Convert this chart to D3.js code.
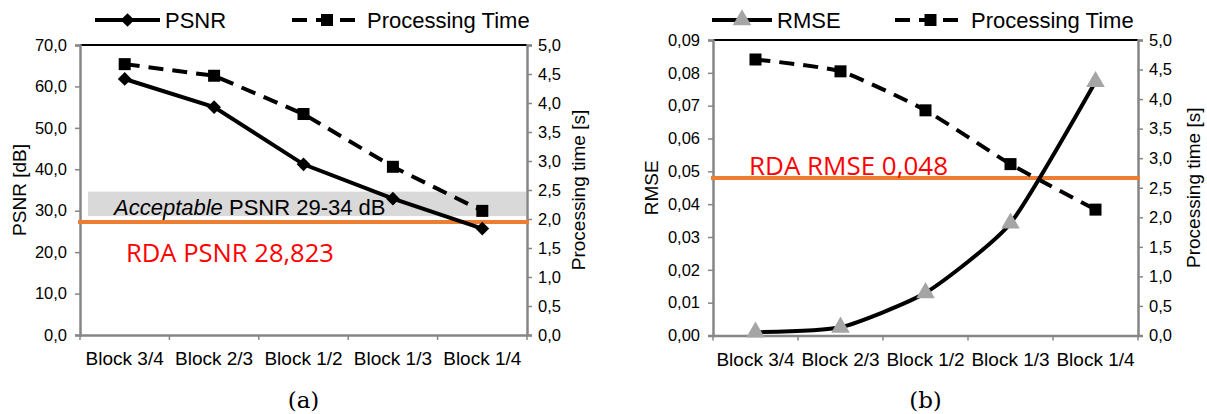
<!DOCTYPE html>
<html><head><meta charset="utf-8">
<script src="https://cdn.jsdelivr.net/npm/d3@7"></script>
<style>
html,body{margin:0;padding:0;background:#fff;}
svg text{font-family:"Liberation Sans",Arial,sans-serif;fill:#000;}
</style></head>
<body><svg id="c" width="1207" height="414"></svg>
<script>
const categories = ["Block 3/4","Block 2/3","Block 1/2","Block 1/3","Block 1/4"];
const psnr = [61.8, 55.0, 41.2, 32.9, 25.7];
const procTimeA = [4.67, 4.47, 3.81, 2.90, 2.14];
const rmse = [0.0010, 0.0025, 0.0130, 0.0342, 0.0773];
const procTimeB = [4.67, 4.47, 3.81, 2.90, 2.13];
const psnrTicks = [0,10,20,30,40,50,60,70];
const timeTicks = [0,0.5,1,1.5,2,2.5,3,3.5,4,4.5,5];
const rmseTicks = [0,0.01,0.02,0.03,0.04,0.05,0.06,0.07,0.08,0.09];
const acceptableBand = [28.7, 34.6];
const rdaPsnrLine = [27.3];
const rdaRmseLine = [0.048];
const labelsA = ["PSNR","Processing Time","PSNR [dB]","Processing time [s]","Acceptable"," PSNR 29-34 dB","RDA PSNR 28,823","(a)"];
const labelsB = ["RMSE","Processing Time","RMSE","Processing time [s]","RDA RMSE 0,048","(b)"];

const svg = d3.select("#c");
const comma = f => v => d3.format(f)(v).replace(".", ",");
const axisGray = "#868686";

function panel(o){
  const g = svg.append("g");
  const x = d3.scaleBand().domain(categories).range([o.x0,o.x1]);
  const yL = d3.scaleLinear().domain(o.leftDomain).range([o.y1,o.y0]);
  const yR = d3.scaleLinear().domain([0,5]).range([o.y1,o.y0]);

  if (o.band){
    g.append("rect").attr("x",o.x0+8).attr("width",(o.x1-1)-(o.x0+8))
      .attr("y",yL(o.band[1])).attr("height",yL(o.band[0])-yL(o.band[1]))
      .attr("fill","#d9d9d9");
  }
  g.append("line").attr("x1",o.x0).attr("x2",o.x1).attr("y1",o.y0).attr("y2",o.y0)
    .attr("stroke","#000").attr("stroke-width",2);

  const la = d3.axisLeft(yL).tickValues(o.leftTicks).tickFormat(comma(o.leftFmt)).tickSizeOuter(0).tickSize(5).tickPadding(8);
  const ra = d3.axisRight(yR).tickValues(timeTicks).tickFormat(comma(".1f")).tickSizeOuter(0).tickSize(5).tickPadding(6);
  const ba = d3.axisBottom(x).tickSize(0).tickPadding(17);
  const gl = g.append("g").attr("transform",`translate(${o.x0},0)`).call(la);
  const gr = g.append("g").attr("transform",`translate(${o.x1},0)`).call(ra);
  const gb = g.append("g").attr("transform",`translate(0,${o.y1})`).call(ba);
  [gl,gr,gb].forEach(a=>{
    a.select(".domain").attr("stroke",axisGray).attr("stroke-width",2.5);
    a.selectAll(".tick line").attr("stroke",axisGray).attr("stroke-width",1.5);
    a.selectAll("text").style("font-family","'Liberation Sans',Arial,sans-serif").attr("fill","#000");
  });
  gl.selectAll("text").style("font-size","16.5px");
  gr.selectAll("text").style("font-size","16.5px");
  gb.selectAll("text").style("font-size","19px");
  const bounds = categories.map(c=>x(c)).concat([o.x1]);
  gb.selectAll(".btick").data(bounds).join("line").attr("class","btick")
    .attr("x1",d=>d).attr("x2",d=>d).attr("y1",0).attr("y2",5)
    .attr("stroke",axisGray).attr("stroke-width",1.5);

  g.append("line").attr("x1",o.x0-2).attr("x2",o.x1+2)
    .attr("y1",yL(o.rda)).attr("y2",yL(o.rda))
    .attr("stroke","#ed7d31").attr("stroke-width",4);

  const cx = d => x(d)+x.bandwidth()/2;
  const curve = o.smooth ? d3.curveCardinal.tension(0.45) : d3.curveLinear;
  const lineT = d3.line().x((d,i)=>cx(categories[i])).y(d=>yR(d)).curve(curve);
  g.append("path").attr("d",lineT(o.time)).attr("fill","none").attr("stroke","#000")
    .attr("stroke-width",4).attr("stroke-dasharray","15,9");
  const lineM = d3.line().x((d,i)=>cx(categories[i])).y(d=>yL(d)).curve(curve);
  g.append("path").attr("d",lineM(o.main)).attr("fill","none").attr("stroke","#000")
    .attr("stroke-width",4);
  g.selectAll(".sq").data(o.time).join("rect").attr("class","sq")
    .attr("x",(d,i)=>cx(categories[i])-6).attr("y",d=>yR(d)-6)
    .attr("width",12).attr("height",12).attr("fill","#000");
  if (o.marker==="diamond"){
    g.selectAll(".mk").data(o.main).join("path").attr("class","mk")
      .attr("d",d3.symbol(d3.symbolDiamond2,120)())
      .attr("transform",(d,i)=>`translate(${cx(categories[i])},${yL(d)})`).attr("fill","#000");
  } else {
    g.selectAll(".mk").data(o.main).join("path").attr("class","mk")
      .attr("d",d3.symbol(d3.symbolTriangle,150)())
      .attr("transform",(d,i)=>`translate(${cx(categories[i])},${yL(d)})`).attr("fill","#a5a5a5");
  }

  const my = (o.y0+o.y1)/2;
  g.append("text").attr("transform",`translate(${o.ltx},${my}) rotate(-90)`)
    .attr("text-anchor","middle").attr("dominant-baseline","central").style("font-size","19px").text(o.lt);
  g.append("text").attr("transform",`translate(${o.rtx},${my}) rotate(-90)`)
    .attr("text-anchor","middle").attr("dominant-baseline","central").style("font-size","19px").text(o.rt);

  const ly = 20;
  g.append("line").attr("x1",o.lg[0]).attr("x2",o.lg[1]).attr("y1",ly).attr("y2",ly)
    .attr("stroke","#000").attr("stroke-width",4);
  if (o.marker==="diamond"){
    g.append("path").attr("d",d3.symbol(d3.symbolDiamond2,120)())
      .attr("transform",`translate(${(o.lg[0]+o.lg[1])/2},${ly})`).attr("fill","#000");
  } else {
    g.append("path").attr("d",d3.symbol(d3.symbolTriangle,150)())
      .attr("transform",`translate(${(o.lg[0]+o.lg[1])/2},${ly})`).attr("fill","#a5a5a5");
  }
  g.append("text").attr("x",o.lg[1]+5).attr("y",ly+8).style("font-size","22px").text(o.mainName);
  g.append("line").attr("x1",o.lg[2]).attr("x2",o.lg[3]).attr("y1",ly).attr("y2",ly)
    .attr("stroke","#000").attr("stroke-width",4).attr("stroke-dasharray","15,9");
  g.append("rect").attr("x",(o.lg[2]+o.lg[3])/2-6).attr("y",ly-6).attr("width",12).attr("height",12).attr("fill","#000");
  g.append("text").attr("x",o.lg[3]+5).attr("y",ly+8).style("font-size","22px").text(o.timeName);

  g.append("text").attr("x",(o.x0+o.x1)/2).attr("y",408).attr("text-anchor","middle")
    .style("font-family","'DejaVu Serif',serif").style("font-size","23px").text(o.caption);
  return {x,yL,yR,g};
}

const A = panel({x0:80,x1:527,y0:45,y1:335,leftDomain:[0,70],leftTicks:psnrTicks,leftFmt:".1f",
  band:acceptableBand,rda:rdaPsnrLine[0],time:procTimeA,main:psnr,marker:"diamond",smooth:false,
  ltx:19,rtx:578,lt:labelsA[2],rt:labelsA[3],lg:[95,160,292,362],mainName:labelsA[0],timeName:labelsA[1],caption:labelsA[7]});

const B = panel({x0:713,x1:1138,y0:40,y1:335.5,leftDomain:[0,0.09],leftTicks:rmseTicks,leftFmt:".2f",
  band:null,rda:rdaRmseLine[0],time:procTimeB,main:rmse,marker:"triangle",smooth:true,
  ltx:651,rtx:1193,lt:labelsB[2],rt:labelsB[3],lg:[712,772,895,966],mainName:labelsB[0],timeName:labelsB[1],caption:labelsB[5]});

const t = A.g.append("text").attr("x",114).attr("y",215).style("font-size","22px");
t.append("tspan").style("font-style","italic").text(labelsA[4]);
t.append("tspan").text(labelsA[5]);

A.g.append("text").attr("x",126).attr("y",262).attr("textLength",208).attr("lengthAdjust","spacingAndGlyphs")
  .style("font-family","'Open Sans',sans-serif").style("font-size","25px").style("fill","#ff0000").text(labelsA[6]);
B.g.append("text").attr("x",749).attr("y",175).attr("textLength",199).attr("lengthAdjust","spacingAndGlyphs")
  .style("font-family","'Open Sans',sans-serif").style("font-size","25px").style("fill","#ff0000").text(labelsB[4]);
</script></body></html>
